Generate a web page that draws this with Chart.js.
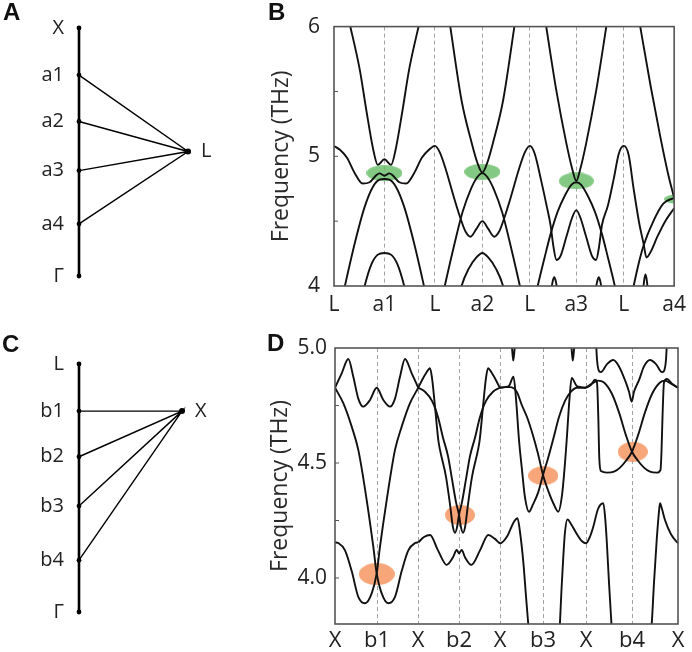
<!DOCTYPE html>
<html>
<head>
<meta charset="utf-8">
<script src="https://cdn.jsdelivr.net/npm/chart.js@4.4.1/dist/chart.umd.min.js"></script>
<style>
  body { margin: 0; background: #fff; }
  #wrap { position: relative; width: 692px; height: 652px; overflow: hidden; background: #fff; }
  canvas { position: absolute; }
  .tag { position: absolute; font-family: "Liberation Sans", Arial, sans-serif; font-weight: bold; font-size: 24px; line-height: 24px; color: #111; }
</style>
</head>
<body>
<div id="wrap">
  <canvas id="pathA" width="230" height="318" style="left:0;top:0"></canvas>
  <canvas id="bandB" width="462" height="318" style="left:230px;top:0"></canvas>
  <canvas id="pathC" width="230" height="334" style="left:0;top:318px"></canvas>
  <canvas id="bandD" width="462" height="334" style="left:230px;top:318px"></canvas>
  <div class="tag" style="left:3px;top:0px">A</div>
  <div class="tag" style="left:268px;top:0px">B</div>
  <div class="tag" style="left:2px;top:332px">C</div>
  <div class="tag" style="left:267px;top:331px">D</div>
</div>
<script>
/* ---- panel A / C: k-path sketches ---- */
const pathA_names = ['X', 'a1', 'a2', 'a3', 'a4', 'Γ'];
const pathA_pos = [0, 0.19, 0.377, 0.575, 0.79, 1];
const pathA_hub = [1, 0.498];
const pathC_names = ['L', 'b1', 'b2', 'b3', 'b4', 'Γ'];
const pathC_pos = [0, 0.19, 0.374, 0.573, 0.791, 1];
const pathC_hub = [1, 0.19];

/* ---- panel B: L-a1-L-a2-L-a3-L-a4 ---- */
const kB_ticks = [0, 0.51, 1.02, 1.50, 1.98, 2.45, 2.93, 3.44];
const kB_labels = ['L', 'a1', 'L', 'a2', 'L', 'a3', 'L', 'a4'];
const yB_ticks = [4, 5, 6];
const yB_minor = [4.5, 5, 5.5];

const bandB_mid = [[0,5.08],[0.06,5.05],[0.13,4.99],[0.21,4.87],[0.29,4.79],[0.36,4.80],[0.43,4.855],[0.46,4.868],[0.51,4.85],[0.56,4.868],[0.59,4.855],[0.66,4.80],[0.73,4.79],[0.81,4.87],[0.89,4.99],[0.96,5.05],
  [1.02,5.08],[1.07,5.03],[1.13,4.90],[1.21,4.69],[1.28,4.52],[1.33,4.42],[1.38,4.38],[1.44,4.44],[1.50,4.50],[1.56,4.44],[1.62,4.38],[1.67,4.42],[1.72,4.52],[1.79,4.69],[1.87,4.90],[1.93,5.03],
  [1.98,5.08],[2.03,5.02],[2.09,4.83],[2.15,4.62],[2.19,4.47],[2.22,4.30],[2.25,4.20],[2.29,4.23],[2.35,4.38],[2.41,4.53],[2.45,4.585],[2.49,4.53],[2.55,4.38],[2.61,4.23],[2.65,4.20],[2.68,4.30],[2.71,4.47],[2.77,4.62],[2.83,4.83],[2.88,5.02],
  [2.93,5.08],[2.98,5.01],[3.03,4.75],[3.09,4.47],[3.13,4.33],[3.16,4.22],[3.20,4.26],[3.27,4.38],[3.35,4.50],[3.44,4.60]];
const bandB_upA1 = [[0.15,6.05],[0.26,5.67],[0.327,5.355],[0.393,5.066],[0.443,4.934],[0.51,4.977],[0.577,4.934],[0.627,5.066],[0.693,5.355],[0.76,5.67],[0.87,6.05]];
const bandB_upA2 = [[1.17,6.03],[1.29,5.43],[1.39,5.11],[1.45,4.95],[1.50,4.875],[1.55,4.95],[1.61,5.11],[1.71,5.43],[1.83,6.03]];
const bandB_upA3 = [[2.14,6.03],[2.25,5.50],[2.35,5.10],[2.41,4.90],[2.45,4.81],[2.49,4.90],[2.55,5.10],[2.65,5.50],[2.76,6.03]];
const bandB_upA4 = [[3.09,6.03],[3.20,5.55],[3.30,5.15],[3.38,4.86],[3.44,4.68]];
const bandB_capA1 = [[0.09,3.93],[0.11,4.0],[0.21,4.33],[0.31,4.61],[0.39,4.76],[0.46,4.82],[0.51,4.825],[0.56,4.82],[0.63,4.76],[0.71,4.61],[0.81,4.33],[0.91,4.0],[0.93,3.93]];
const bandB_capA2 = [[1.10,3.93],[1.12,4.0],[1.22,4.33],[1.30,4.57],[1.38,4.74],[1.45,4.84],[1.50,4.87],[1.55,4.84],[1.62,4.74],[1.70,4.57],[1.78,4.33],[1.88,4.0],[1.90,3.93]];
const bandB_capA3 = [[2.04,3.93],[2.06,4.0],[2.13,4.22],[2.19,4.40],[2.26,4.57],[2.33,4.69],[2.40,4.78],[2.45,4.80],[2.50,4.78],[2.57,4.69],[2.64,4.57],[2.71,4.40],[2.77,4.22],[2.84,4.0],[2.86,3.93]];
const bandB_capA4 = [[3.01,3.93],[3.03,4.0],[3.08,4.17],[3.13,4.31],[3.23,4.50],[3.33,4.635],[3.44,4.68]];
const bandB_lowA1 = [[0.29,3.93],[0.31,4.0],[0.38,4.17],[0.44,4.24],[0.51,4.255],[0.58,4.24],[0.64,4.17],[0.71,4.0],[0.73,3.93]];
const bandB_lowA2 = [[1.27,3.93],[1.29,4.0],[1.36,4.13],[1.44,4.22],[1.50,4.255],[1.56,4.22],[1.64,4.13],[1.71,4.0],[1.73,3.93]];
const bandB_bumpA3a = [[2.19,3.93],[2.21,4.03],[2.227,4.067],[2.245,4.03],[2.265,3.93]];
const bandB_bumpA3b = [[2.635,3.93],[2.66,4.03],[2.677,4.067],[2.695,4.03],[2.715,3.93]];
const bandB_bumpA4 = [[3.12,3.93],[3.14,4.06],[3.15,4.09],[3.16,4.06],[3.18,3.93]];
const marksB = [[0.51,4.87],[1.50,4.88],[2.45,4.81],[3.49,4.67]];

/* ---- panel D: X-b1-X-b2-X-b3-X-b4-X ---- */
const kD_ticks = [0, 0.42, 0.83, 1.24, 1.65, 2.08, 2.51, 2.97, 3.43];
const kD_labels = ['X', 'b1', 'X', 'b2', 'X', 'b3', 'X', 'b4', 'X'];
const yD_ticks = [4.0, 4.5, 5.0];
const yD_minor = [4.0, 4.25, 4.5, 4.75];

const bandD_topB1 = [[0,4.827],[0.067,4.89],[0.133,4.952],[0.183,4.875],[0.233,4.78],[0.283,4.745],[0.35,4.774],[0.417,4.827],[0.483,4.774],[0.55,4.745],[0.60,4.78],[0.65,4.875],[0.70,4.952],[0.767,4.89],[0.833,4.827]];
const bandD_P = [[0,4.827],[0.083,4.76],[0.167,4.658],[0.233,4.557],[0.317,4.339],[0.383,4.136],[0.417,4.02],[0.467,3.933],[0.533,3.89],[0.60,3.918],[0.667,4.03],[0.733,4.12],[0.80,4.152],[0.833,4.155]];
const bandD_Q = [[0,4.155],[0.033,4.152],[0.10,4.12],[0.167,4.03],[0.233,3.918],[0.30,3.89],[0.367,3.933],[0.417,4.02],[0.45,4.136],[0.517,4.339],[0.60,4.557],[0.667,4.658],[0.75,4.76],[0.833,4.827]];
const bandD_low1 = [[0.833,4.155],[0.89,4.178],[0.95,4.187],[1.03,4.12],[1.117,4.057],[1.18,4.09],[1.217,4.122],[1.24,4.107],[1.267,4.122],[1.30,4.09],[1.363,4.057],[1.45,4.12],[1.533,4.187],[1.60,4.17],[1.653,4.151],[1.72,4.18],[1.79,4.245],[1.825,4.26],[1.85,4.20],[1.883,4.07],[1.91,3.92],[1.94,3.76]];
const bandD_low2 = [[2.245,3.76],[2.265,3.95],[2.283,4.093],[2.30,4.20],[2.325,4.255],[2.36,4.235],[2.42,4.19],[2.47,4.16],[2.51,4.151],[2.55,4.18],[2.583,4.223],[2.63,4.30],[2.683,4.325],[2.70,4.27],[2.717,4.165],[2.74,3.98],[2.77,3.76]];
const bandD_low3 = [[3.155,3.76],[3.167,3.80],[3.19,3.98],[3.217,4.165],[3.24,4.29],[3.25,4.325],[3.27,4.30],[3.30,4.252],[3.36,4.19],[3.43,4.151]];
const bandD_R = [[0.833,4.827],[0.87,4.86],[0.91,4.89],[0.95,4.912],[0.97,4.87],[1.00,4.745],[1.033,4.60],[1.05,4.557],[1.11,4.44],[1.15,4.32],[1.18,4.22],[1.20,4.197],[1.22,4.22],[1.24,4.275],[1.27,4.33],[1.31,4.43],[1.35,4.53],[1.40,4.61],[1.45,4.70],[1.51,4.77],[1.58,4.81],[1.647,4.827]];
const bandD_S = [[0.833,4.827],[0.90,4.81],[0.97,4.77],[1.03,4.70],[1.08,4.61],[1.13,4.53],[1.17,4.43],[1.21,4.33],[1.24,4.275],[1.26,4.22],[1.28,4.197],[1.30,4.22],[1.33,4.32],[1.37,4.44],[1.43,4.557],[1.447,4.60],[1.48,4.745],[1.51,4.87],[1.53,4.912],[1.57,4.89],[1.61,4.86],[1.647,4.827]];
const bandD_T = [[1.647,4.827],[1.70,4.83],[1.74,4.835],[1.785,4.875],[1.81,4.78],[1.84,4.60],[1.87,4.47],[1.90,4.35],[1.94,4.288],[1.98,4.32],[2.03,4.37],[2.08,4.448],[2.13,4.52],[2.18,4.60],[2.24,4.70],[2.30,4.77],[2.36,4.81],[2.42,4.827],[2.51,4.827]];
const bandD_U = [[1.647,4.827],[1.70,4.83],[1.75,4.83],[1.817,4.81],[1.87,4.75],[1.92,4.70],[1.98,4.62],[2.03,4.54],[2.08,4.448],[2.14,4.37],[2.183,4.325],[2.233,4.288],[2.27,4.36],[2.30,4.50],[2.317,4.60],[2.345,4.78],[2.367,4.87],[2.417,4.835],[2.46,4.83],[2.51,4.827]];
const bandD_V1 = [[2.51,4.827],[2.57,4.845],[2.63,4.858],[2.69,4.85],[2.77,4.80],[2.84,4.72],[2.91,4.62],[2.97,4.549],[3.03,4.51],[3.09,4.48],[3.15,4.462],[3.22,4.458],[3.255,4.47],[3.265,4.55],[3.275,4.70],[3.29,4.85],[3.32,4.865],[3.37,4.845],[3.43,4.827]];
const bandD_V2 = [[2.51,4.827],[2.56,4.84],[2.60,4.862],[2.62,4.85],[2.633,4.70],[2.643,4.52],[2.66,4.465],[2.72,4.458],[2.79,4.462],[2.85,4.48],[2.91,4.51],[2.97,4.549],[3.03,4.62],[3.10,4.72],[3.17,4.80],[3.25,4.85],[3.30,4.858],[3.36,4.845],[3.43,4.827]];
const bandD_topB4 = [[2.61,5.03],[2.62,4.95],[2.64,4.90],[2.66,4.895],[2.72,4.93],[2.783,4.948],[2.84,4.92],[2.90,4.86],[2.94,4.81],[2.967,4.767],[2.99,4.81],[3.04,4.86],[3.09,4.92],[3.15,4.948],[3.21,4.93],[3.27,4.895],[3.29,4.90],[3.31,4.95],[3.32,5.03]];
const bandD_dip1 = [[1.75,5.04],[1.77,5.0],[1.783,4.945],[1.797,5.0],[1.815,5.04]];
const bandD_dip2 = [[2.345,5.04],[2.365,5.0],[2.378,4.945],[2.392,5.0],[2.41,5.04]];
const marksD = [[0.417,4.017],[1.25,4.274],[2.083,4.445],[2.977,4.549]];

const FONT = '"Open Sans", "DejaVu Sans", sans-serif';

function blob(w, h, color) {
  const c = document.createElement('canvas');
  c.width = w; c.height = h;
  const g = c.getContext('2d');
  g.fillStyle = color;
  g.beginPath();
  g.ellipse(w / 2, h / 2, w / 2, h / 2, 0, 0, Math.PI * 2);
  g.fill();
  return c;
}

const line = pts => ({
  data: pts.map(([x, y]) => ({x, y})),
  showLine: true, borderColor: '#111', borderWidth: 1.9,
  pointRadius: 0, cubicInterpolationMode: 'monotone', order: 1
});

const marks = (pts, imgs) => ({
  data: pts.map(([x, y]) => ({x, y})),
  showLine: false, pointRadius: 8, borderWidth: 0, order: 10, clip: 0,
  pointStyle: c => imgs[c.dataIndex]
});

// frame + small inward ticks on the left axis
const frame = {
  id: 'frame',
  afterDatasetsDraw(chart, args, o) {
    const {ctx, chartArea: a, scales: {y}} = chart;
    ctx.save();
    ctx.strokeStyle = '#555';
    ctx.lineWidth = 1;
    o.minor.forEach(v => {
      const py = y.getPixelForValue(v);
      ctx.beginPath(); ctx.moveTo(a.left, py); ctx.lineTo(a.left + 4, py); ctx.stroke();
    });
    ctx.lineWidth = 1.6;
    ctx.strokeRect(a.left, a.top, a.right - a.left, a.bottom - a.top);
    ctx.restore();
  }
};

const pathLabels = {
  id: 'pathLabels',
  afterDatasetsDraw(chart, args, o) {
    const {ctx, scales: {x, y}} = chart;
    ctx.save();
    ctx.font = '20px ' + FONT;
    ctx.fillStyle = '#222';
    ctx.textBaseline = 'middle';
    ctx.textAlign = 'right';
    o.names.forEach((n, i) => ctx.fillText(n, x.getPixelForValue(0) - 15, y.getPixelForValue(o.pos[i])));
    ctx.textAlign = 'left';
    ctx.fillText(o.hubName, x.getPixelForValue(o.hub[0]) + 13, y.getPixelForValue(o.hub[1]));
    ctx.restore();
  }
};

function pathChart(id, names, pos, hub, hubName, pad) {
  const spokes = [];
  for (let i = 1; i < names.length - 1; i++) {
    spokes.push({x: 0, y: pos[i]});
    spokes.push({x: hub[0], y: hub[1]});
  }
  new Chart(document.getElementById(id), {
    type: 'scatter',
    data: {
      datasets: [
        { data: pos.map(p => ({x: 0, y: p})), showLine: true, borderColor: '#000', borderWidth: 2.6,
          pointRadius: 2.4, pointBackgroundColor: '#000', pointBorderWidth: 0, clip: false },
        { data: spokes, showLine: true, borderColor: '#000', borderWidth: 1.4, pointRadius: 0, clip: false },
        { data: [{x: hub[0], y: hub[1]}], pointRadius: 3, pointBackgroundColor: '#000', pointBorderWidth: 0, clip: false }
      ]
    },
    options: {
      responsive: false, animation: false, events: [],
      layout: { padding: pad },
      plugins: { legend: {display: false}, tooltip: {enabled: false},
                 pathLabels: { names, pos, hub, hubName } },
      scales: {
        x: { type: 'linear', min: 0, max: 1, display: false },
        y: { type: 'linear', min: 0, max: 1, reverse: true, display: false }
      }
    },
    plugins: [pathLabels]
  });
}

function bandChart(id, curves, markPts, markImgs, kTicks, kLabels, yMin, yMax, yTicks, yMinor, geo) {
  new Chart(document.getElementById(id), {
    type: 'scatter',
    data: { datasets: curves.map(line).concat([marks(markPts, markImgs)]) },
    options: {
      responsive: false, animation: false, events: [],
      layout: { padding: { top: geo.top, right: 14, left: 0, bottom: 0 } },
      plugins: { legend: {display: false}, tooltip: {enabled: false}, frame: { minor: yMinor } },
      scales: {
        x: {
          type: 'linear', min: kTicks[0], max: kTicks[kTicks.length - 1],
          afterBuildTicks: s => { s.ticks = kTicks.map(v => ({value: v})); },
          afterFit: s => { s.height = geo.xh; },
          ticks: { autoSkip: false, maxRotation: 0, padding: geo.xpad, color: '#222',
                   font: { family: FONT, size: geo.xfont }, callback: (v, i) => kLabels[i] },
          grid: { drawTicks: false, lineWidth: 1,
                  color: c => (c.index > 0 && c.index < kTicks.length - 1) ? '#a3a3a3' : 'rgba(0,0,0,0)' },
          border: { display: false, dash: [4, 3] }
        },
        y: {
          type: 'linear', min: yMin, max: yMax,
          afterBuildTicks: s => { s.ticks = yTicks.map(v => ({value: v})); },
          afterFit: s => { s.width = geo.yw; },
          ticks: { padding: geo.ypad, color: '#222', font: { family: FONT, size: 21 },
                   callback: v => geo.fmt(v) },
          grid: { display: false, drawTicks: false },
          border: { display: false },
          title: { display: true, text: 'Frequency (THz)', color: '#2a2a2a',
                   font: { family: FONT, size: 23 }, padding: { top: geo.tpad, bottom: 0 } }
        }
      }
    },
    plugins: [frame]
  });
}

pathChart('pathA', pathA_names, pathA_pos, pathA_hub, 'L', {left: 79, right: 42, top: 28, bottom: 42});
pathChart('pathC', pathC_names, pathC_pos, pathC_hub, 'X', {left: 79, right: 48, top: 46, bottom: 40});

const green = 'rgba(100,188,100,0.8)';
bandChart('bandB',
  [bandB_mid, bandB_upA1, bandB_upA2, bandB_upA3, bandB_upA4, bandB_capA1, bandB_capA2, bandB_capA3, bandB_capA4,
   bandB_lowA1, bandB_lowA2, bandB_bumpA3a, bandB_bumpA3b, bandB_bumpA4],
  marksB, [blob(36, 16, green), blob(36, 16, green), blob(35, 17, green), blob(30, 10, green)],
  kB_ticks, kB_labels, 4, 6, yB_ticks, yB_minor,
  { top: 9, xh: 32, xpad: 6, xfont: 21, yw: 104, ypad: 14, tpad: 38, fmt: v => String(v) });

const orange = 'rgba(246,150,98,0.85)';
bandChart('bandD',
  [bandD_topB1, bandD_P, bandD_Q, bandD_low1, bandD_low2, bandD_low3, bandD_R, bandD_S, bandD_T, bandD_U,
   bandD_V1, bandD_V2, bandD_topB4, bandD_dip1, bandD_dip2],
  marksD, [blob(36, 22, orange), blob(30, 20, orange), blob(30, 19, orange), blob(30, 20, orange)],
  kD_ticks, kD_labels, 3.8, 5.0, yD_ticks, yD_minor,
  { top: 30, xh: 28, xpad: 4, xfont: 22, yw: 105, ypad: 8, tpad: 37, fmt: v => v.toFixed(1) });
</script>
</body>
</html>
